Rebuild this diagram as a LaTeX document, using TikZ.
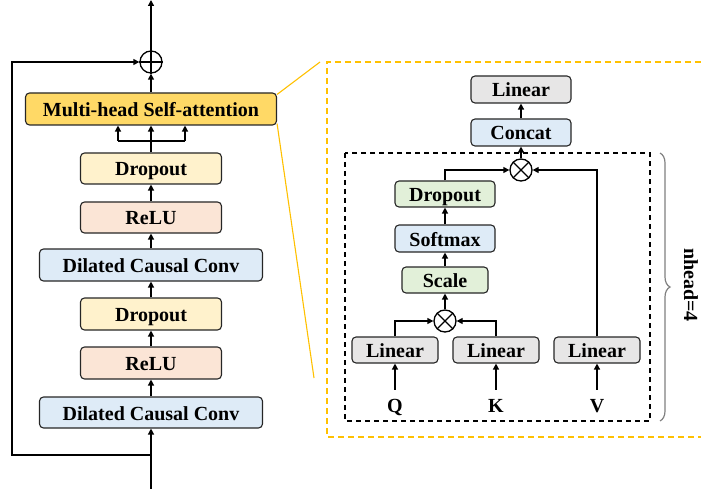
\documentclass[tikz,border=0pt]{standalone}
\usepackage{fontspec}
\setmainfont{Liberation Serif}
\usetikzlibrary{arrows.meta,decorations.pathreplacing}
\definecolor{goldfill}{HTML}{FFD966}
\definecolor{dropfill}{HTML}{FFF2CC}
\definecolor{relufill}{HTML}{FBE5D6}
\definecolor{bluefill}{HTML}{DEEBF7}
\definecolor{grayfill}{HTML}{E7E6E6}
\definecolor{greenfill}{HTML}{E2F0D9}
\definecolor{goldline}{HTML}{FFC000}
\definecolor{boxline}{HTML}{262626}
\tikzset{
  blk/.style={draw=boxline, line width=1.1pt, rounded corners=4pt, inner sep=0pt,
    text height=15pt, text depth=0pt,
    font=\fontsize{20}{24}\selectfont\bfseries},
  arr/.style={line width=1.3pt, -{Triangle[length=6pt,width=6pt]}},
  ln/.style={line width=1.3pt},
  opnode/.style={circle, draw, line width=1.3pt, minimum size=22pt, inner sep=0pt},
  lbl/.style={inner sep=0pt, minimum height=30pt, text height=15pt, text depth=0pt, font=\fontsize{20}{24}\selectfont\bfseries},
}
\begin{document}
\begin{tikzpicture}[x=1pt,y=-1pt]
\useasboundingbox (0,0) rectangle (701,489);
% ---------- left column ----------
\node[blk, fill=goldfill, minimum width=251pt, minimum height=32pt] (mhsa) at (151,109) {Multi-head Self-attention};
\node[blk, fill=dropfill, minimum width=141pt, minimum height=31pt] (drop1) at (151,168.5) {Dropout};
\node[blk, fill=relufill, minimum width=141pt, minimum height=31pt] (relu1) at (151,217.5) {ReLU};
\node[blk, fill=bluefill, minimum width=223pt, minimum height=32pt] (dcc1) at (151,265) {Dilated Causal Conv};
\node[blk, fill=dropfill, minimum width=141pt, minimum height=32pt] (drop2) at (151,314) {Dropout};
\node[blk, fill=relufill, minimum width=141pt, minimum height=32pt] (relu2) at (151,363) {ReLU};
\node[blk, fill=bluefill, minimum width=223pt, minimum height=31pt] (dcc2) at (151,412.5) {Dilated Causal Conv};
\node[opnode] (add) at (151,62) {};
\draw[ln] (add.north) -- (add.south) (add.west) -- (add.east);

\coordinate (out) at (151,0);
\coordinate (in) at (151,489);
\coordinate (br) at (151,455);
\coordinate (skb) at (12,455);
\coordinate (skt) at (12,62);
\coordinate (fork) at (151,141);
\coordinate (forkL) at (118,141);
\coordinate (forkR) at (185,141);

\draw[arr] (add.north) -- (out);
\draw[arr] (mhsa.north) -- (add.south);
\draw[arr] (in) -- (dcc2.south);
\draw[arr] (br) -- (skb) -- (skt) -- (add.west);
\draw[arr] (dcc2.north) -- (relu2.south);
\draw[arr] (relu2.north) -- (drop2.south);
\draw[arr] (drop2.north) -- (dcc1.south);
\draw[arr] (dcc1.north) -- (relu1.south);
\draw[arr] (relu1.north) -- (drop1.south);
\draw[ln] (drop1.north) -- (fork);
\draw[ln] (forkL) -- (forkR);
\draw[arr] (forkL) -- (forkL |- mhsa.south);
\draw[arr] (fork) -- (mhsa.south);
\draw[arr] (forkR) -- (forkR |- mhsa.south);

% ---------- zoom lines ----------
\coordinate (z1) at (320,62);
\coordinate (z2) at (314,378);
\draw[goldline, line width=1.1pt] ([yshift=-2pt]mhsa.north east) -- (z1);
\draw[goldline, line width=1.1pt] ([yshift=2pt]mhsa.south east) -- (z2);
\coordinate (gb1) at (701,62);
\coordinate (gb2) at (327,62);
\coordinate (gb3) at (327,437);
\coordinate (gb4) at (701,437);
\draw[goldline, line width=1.3pt, dash pattern=on 6pt off 4pt] (gb1) -- (gb2) -- (gb3) -- (gb4);

% ---------- right panel ----------
\node[blk, fill=grayfill, minimum width=100pt, minimum height=27pt] (lintop) at (521,89.5) {Linear};
\node[blk, fill=bluefill, minimum width=100pt, minimum height=27pt] (concat) at (521,132.5) {Concat};
\node[opnode] (multop) at (521,170) {};
\draw[ln] (multop.north west) -- (multop.south east) (multop.north east) -- (multop.south west);
\node[blk, fill=greenfill, minimum width=100pt, minimum height=26pt] (dropr) at (445,194) {Dropout};
\node[blk, fill=bluefill, minimum width=100pt, minimum height=27pt] (soft) at (445,238.5) {Softmax};
\node[blk, fill=greenfill, minimum width=86pt, minimum height=26pt] (scale) at (445,280) {Scale};
\node[opnode] (mulqk) at (445,321) {};
\draw[ln] (mulqk.north west) -- (mulqk.south east) (mulqk.north east) -- (mulqk.south west);
\node[blk, fill=grayfill, minimum width=86pt, minimum height=26pt] (linq) at (395,350) {Linear};
\node[blk, fill=grayfill, minimum width=86pt, minimum height=26pt] (link) at (496,350) {Linear};
\node[blk, fill=grayfill, minimum width=86pt, minimum height=26pt] (linv) at (597,350) {Linear};
\node[lbl] (q) at (395,405) {Q};
\node[lbl] (k) at (496,405) {K};
\node[lbl] (v) at (597,405) {V};

\draw[arr] (q.north) -- (linq.south);
\draw[arr] (k.north) -- (link.south);
\draw[arr] (v.north) -- (linv.south);
\draw[arr] (linq.north) |- (mulqk.west);
\draw[arr] (link.north) |- (mulqk.east);
\draw[arr] (mulqk.north) -- (scale.south);
\draw[arr] (scale.north) -- (soft.south);
\draw[arr] (soft.north) -- (dropr.south);
\draw[arr] (dropr.north) |- (multop.west);
\draw[arr] (linv.north) |- (multop.east);
\draw[arr] (multop.north) -- (concat.south);
\draw[arr] (concat.north) -- (lintop.south);

\draw[line width=1.2pt, dash pattern=on 5pt off 4pt] (345,153) rectangle (650,421);
\coordinate (bt) at (660,153);
\coordinate (bb) at (660,421);
\draw[gray, line width=1.2pt, decorate, decoration={brace, amplitude=10pt}] (bt) -- (bb);
\node[rotate=-90, inner sep=0pt, font=\fontsize{20}{24}\selectfont\bfseries] (nh) at (691,285) {nhead=4};
\end{tikzpicture}
\end{document}
